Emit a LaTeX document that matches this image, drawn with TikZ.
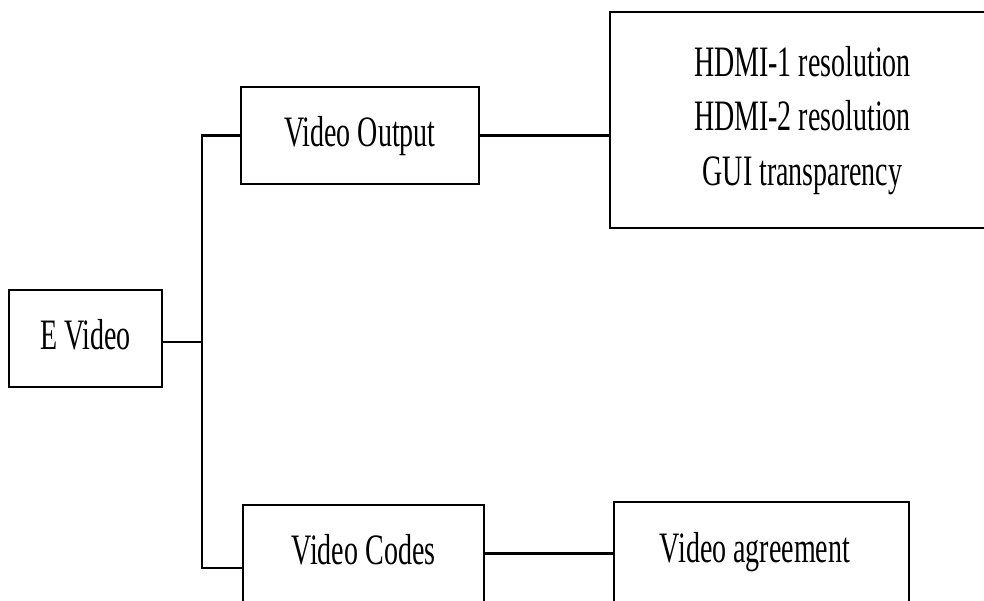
\documentclass[tikz,border=0pt]{standalone}
\usepackage{fontspec}
\setmainfont{Liberation Serif}
\usetikzlibrary{calc}
\newcommand{\tall}[1]{\scalebox{1}[1.55]{\fontsize{28}{35}\selectfont\begin{tabular}{@{}c@{}}#1\end{tabular}}}
\tikzset{
  box/.style={draw=black, line width=2.3pt, rectangle, inner sep=0pt, fill=white},
  link/.style={draw=black, line width=2.1pt}
}
\begin{document}
\begin{tikzpicture}[x=1pt, y=-1pt]
  \useasboundingbox (0,0) rectangle (984,601);
  \clip (0,0) rectangle (984,601);
  \fill[white] (0,0) rectangle (984,601);

  % boxes
  \node[box, minimum width=153pt, minimum height=97pt] (ev) at (85.5,338.5) {\tall{E Video}};
  \node[box, minimum width=238pt, minimum height=97pt] (vo) at (360,135.5) {\tall{Video Output}};
  \node[box, minimum width=385pt, minimum height=216pt] (hd) at (802.5,120)
    {\tall{HDMI-1 resolution\\HDMI-2 resolution\\GUI transparency}};
  \node[box, minimum width=241pt, minimum height=97pt] (vc) at (363.5,553.5) {\tall{Video Codes}};
  \node[box, minimum width=295pt, minimum height=100pt] (va) at (761.5,552)
    {\hspace*{-13pt}\tall{Video agreement}};

  % trunk joining the two branches
  \coordinate (vcin) at ($(vc.west)+(0,14.5)$);
  \coordinate (trunk) at (202,0);

  \draw[link] ($(ev.east)+(0,3.5)$) -- ($(ev.east -| trunk)+(0,3.5)$);
  \draw[link] (vo.west) -- (vo.west -| trunk) -- (trunk |- vcin) -- (vcin);
  \draw[link] (vo.east) -- (vo.east -| hd.west);
  \draw[link] (vc.east) -- (vc.east -| va.west);
\end{tikzpicture}
\end{document}
